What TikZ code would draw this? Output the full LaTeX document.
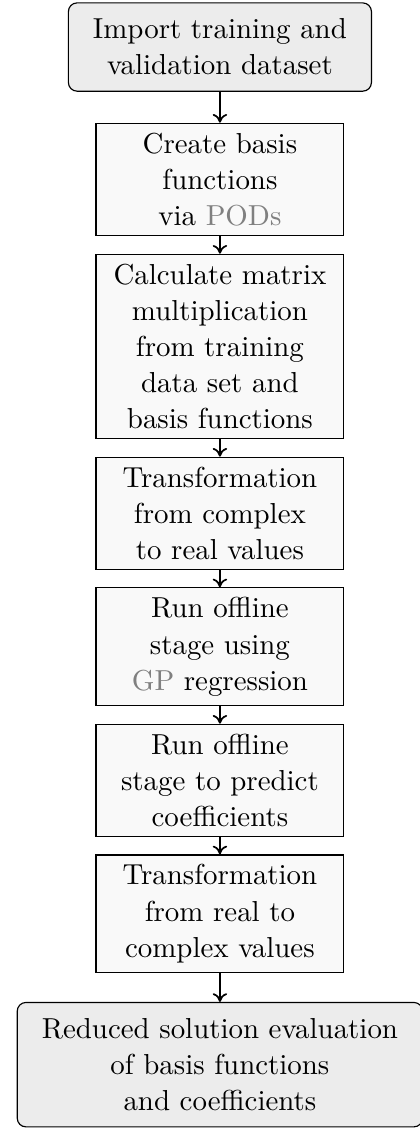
\documentclass[tikz,border=0pt]{standalone}
\usepackage{xcolor}
\usepackage{tikz}
\usetikzlibrary{arrows.meta, positioning}

\begin{document}
\begin{tikzpicture}[
    >={To[length=3pt, width=5pt]},
    font={\fontsize{10pt}{12.5pt}\selectfont},
    terminal/.style={draw, rounded corners=3pt, fill=gray!15, align=center, inner xsep=8.5pt, inner ysep=5.5pt},
    process/.style={draw, fill=gray!5, align=center, minimum width=85.8pt},
    flow/.style={->, semithick},
    node distance=6pt,
]
    \useasboundingbox (0,0) rectangle (145.3pt,-393.8pt);

    % Start
    \node[terminal, anchor=north] (start) at (76.1pt,-0.8pt) {Import training and\\validation dataset};

    % Steps
    \node[process, below=10.7pt of start] (pod) {Create basis\\functions\\via {\color{gray}PODs}};
    \node[process, below=of pod] (matmul) {Calculate matrix\\multiplication\\from training\\data set and\\basis functions};
    \node[process, below=of matmul] (toreal) {Transformation\\from complex\\to real values};
    \node[process, below=of toreal] (offline) {Run offline\\stage using\\{\color{gray}GP} regression};
    \node[process, below=of offline] (predict) {Run offline\\stage to predict\\coefficients};
    \node[process, below=of predict] (tocomplex) {Transformation\\from real to\\complex values};

    % End
    \node[terminal, below=10pt of tocomplex] (result) {Reduced solution evaluation\\of basis functions\\and coefficients};

    % Arrows
    \draw[flow] (start) -- (pod);
    \draw[flow] (pod) -- (matmul);
    \draw[flow] (matmul) -- (toreal);
    \draw[flow] (toreal) -- (offline);
    \draw[flow] (offline) -- (predict);
    \draw[flow] (predict) -- (tocomplex);
    \draw[flow] (tocomplex) -- (result);
\end{tikzpicture}
\end{document}
